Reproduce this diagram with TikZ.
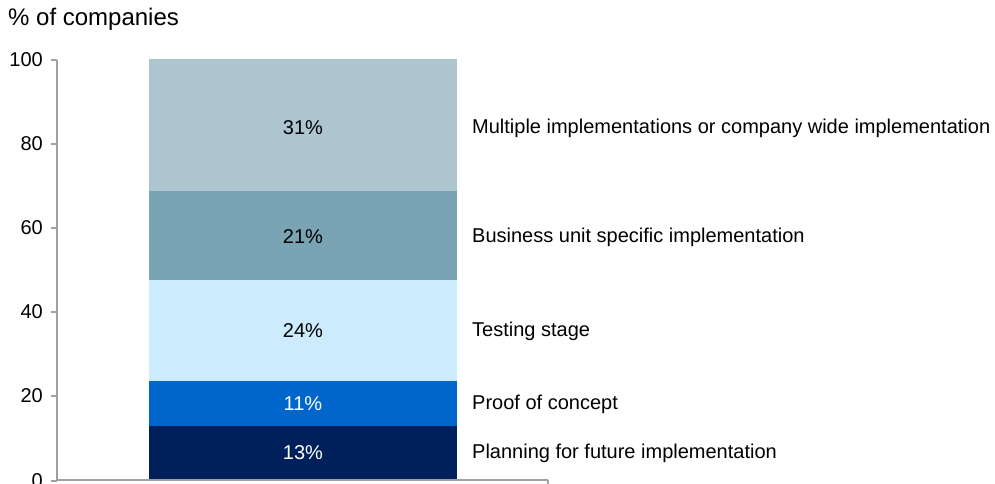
\documentclass[tikz,border=0pt]{standalone}
\usepackage{fontspec}
\setmainfont{Liberation Sans}
\definecolor{segA}{HTML}{ADC5CF}
\definecolor{segB}{HTML}{7AA3B3}
\definecolor{segC}{HTML}{CCEBFD}
\definecolor{segD}{HTML}{0066CC}
\definecolor{segE}{HTML}{00205C}
\definecolor{axisgray}{HTML}{A0A0A0}
\begin{document}
\begin{tikzpicture}[x=1pt,y=-1pt,
  every node/.style={font=\fontsize{20}{23}\selectfont, inner sep=0pt},
  axisline/.style={draw=axisgray, line width=1.2pt},
  tick/.style={anchor=east},
  seglabel/.style={anchor=center},
  catlabel/.style={anchor=west}]
\useasboundingbox (0,0) rectangle (995,484);
% bar segments
\fill[segE] (149,480) rectangle (457,425.7);
\fill[segD] (149,425.7) rectangle (457,381);
\fill[segC] (149,381) rectangle (457,280);
\fill[segB] (149,280) rectangle (457,190.7);
\fill[segA] (149,190.7) rectangle (457,59);
% axes
\coordinate (ytop) at (57,60);
\coordinate (origin) at (57,480);
\coordinate (xend) at (548,480);
\draw[axisline] (ytop) -- (origin) -- (xend);
\draw[axisline] (xend) -- ++(0,6);
\foreach \v/\y in {0/481,20/396,40/312,60/228,80/144,100/60}{
  \draw[axisline] (51,\y) -- (57,\y);
  \node[tick] (t\v) at (43,\y) {\v};
}
\node[anchor=west, font=\fontsize{24}{28}\selectfont] (title) at (8,19) {\% of companies};
% segment labels
\node[seglabel, white] (pE) at (303,453) {13\%};
\node[seglabel, white] (pD) at (303,404) {11\%};
\node[seglabel] (pC) at (303,331) {24\%};
\node[seglabel] (pB) at (303,237) {21\%};
\node[seglabel] (pA) at (303,128) {31\%};
% category labels
\node[catlabel] (cE) at (472,453) {Planning for future implementation};
\node[catlabel] (cD) at (472,404) {Proof of concept};
\node[catlabel] (cC) at (472,331) {Testing stage};
\node[catlabel] (cB) at (472,237) {Business unit specific implementation};
\node[catlabel] (cA) at (472,128) {Multiple implementations or company wide implementation};
\end{tikzpicture}
\end{document}
